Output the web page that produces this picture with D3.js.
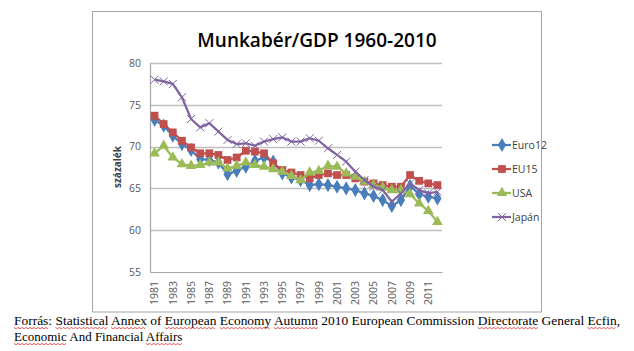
<!DOCTYPE html>
<html lang="hu">
<head>
<meta charset="utf-8">
<title>Munkabér/GDP 1960-2010</title>
<script src="https://cdn.jsdelivr.net/npm/d3@7"></script>
<style>
  body { margin: 0; background: #fff; }
  .axis text { font-family: "Open Sans", sans-serif; font-size: 10.5px; fill: #595959; }
  .legend text { font-family: "Open Sans", sans-serif; font-size: 10.5px; fill: #404040; }
  .footer { font-family: "Liberation Serif", "Times New Roman", serif; font-size: 13px; fill: #000; }
</style>
</head>
<body>
<script>
// data
var years = d3.range(1981, 2013);
var euro12 = [73.2, 72.5, 71.3, 70.3, 69.6, 68.5, 68.4, 68.1, 66.7, 67.1, 67.6, 68.3,
              68.7, 68.2, 66.8, 66.3, 66.0, 65.4, 65.5, 65.4, 65.2, 65.0, 64.8, 64.4,
              64.1, 63.6, 62.9, 63.6, 65.3, 64.3, 64.0, 63.8];
var eu15 = [73.7, 72.7, 71.7, 70.7, 69.9, 69.2, 69.2, 69.0, 68.4, 68.7, 69.5, 69.4,
            69.2, 68.0, 67.2, 66.9, 66.6, 66.2, 66.6, 66.8, 66.6, 66.6, 66.2, 65.8,
            65.6, 65.4, 65.2, 65.2, 66.6, 65.9, 65.6, 65.4];
var usa = [69.2, 70.1, 68.7, 67.9, 67.7, 67.8, 68.1, 68.1, 67.4, 67.7, 68.1, 67.8,
           67.6, 67.3, 67.0, 66.5, 66.0, 66.9, 67.1, 67.7, 67.6, 66.8, 66.4, 65.8,
           65.4, 65.1, 64.8, 64.8, 64.3, 63.2, 62.3, 61.0];
var japan = [78.0, 77.8, 77.5, 75.9, 73.3, 72.3, 72.8, 71.8, 70.8, 70.3, 70.4, 70.1,
             70.6, 70.9, 71.1, 70.6, 70.6, 71.0, 70.7, 69.8, 69.0, 68.2, 67.0, 66.0,
             65.2, 64.8, 63.4, 64.4, 65.6, 64.8, 64.4, 64.6];
var seriesNames = ["Euro12", "EU15", "USA", "Japán"];
var yTicks = [55, 60, 65, 70, 75, 80];
var titleText = "Munkabér/GDP 1960-2010";
var yTitle = "százalék";
var footerLines = [
  "Forrás: Statistical Annex of European Economy Autumn 2010 European Commission Directorate General Ecfin,",
  "Economic And Financial Affairs"
];
var misspelled = [
  ["Forrás", "Statistical", "Annex", "European", "Economy", "Autumn", "Directorate", "Ecfin"],
  ["Economic", "Affairs"]
];

var W = 634, H = 351;
var colors = ["#4A7EBB", "#C0504D", "#9BBB59", "#8064A2"];
var symbols = [d3.symbolDiamond, d3.symbolSquare, d3.symbolTriangle, d3.symbolCross];
var allSeries = [euro12, eu15, usa, japan];

var svg = d3.select("body").append("svg")
  .attr("width", W).attr("height", H);

// chart frame
svg.append("rect")
  .attr("x", 92.5).attr("y", 11.5).attr("width", 449).attr("height", 300.5)
  .attr("fill", "#fff").attr("stroke", "#a6a6a6");

svg.append("text")
  .attr("x", 317).attr("y", 47)
  .attr("text-anchor", "middle")
  .style("font-family", "'Open Sans', sans-serif")
  .style("font-size", "19px")
  .style("font-weight", 600)
  .text(titleText);

var x = d3.scaleBand().domain(years).range([150, 442]);
var y = d3.scaleLinear().domain([55, 80]).range([272, 63]);

// gridlines
svg.append("g").selectAll("line")
  .data(yTicks.slice(1))
  .enter().append("line")
  .attr("x1", 150).attr("x2", 442)
  .attr("y1", function(d) { return Math.round(y(d)) + 0.5; })
  .attr("y2", function(d) { return Math.round(y(d)) + 0.5; })
  .attr("stroke", "#bfbfbf").attr("stroke-width", 1.5);

// y axis
var yAxis = d3.axisLeft(y).tickValues(yTicks).tickSize(0).tickPadding(9);
svg.append("g").attr("class", "axis")
  .attr("transform", "translate(150,0)")
  .call(yAxis)
  .call(function(g) { g.select(".domain").attr("stroke", "#a6a6a6").attr("stroke-width", 1.2); });

// x axis
var xAxis = d3.axisBottom(x)
  .tickValues(years.filter(function(d, i) { return i % 2 === 0; }))
  .tickSize(0);
var gx = svg.append("g").attr("class", "axis")
  .attr("transform", "translate(0,272)")
  .call(xAxis);
gx.select(".domain").attr("stroke", "#a6a6a6").attr("stroke-width", 1.2);
gx.selectAll(".tick text")
  .attr("transform", "rotate(-90)")
  .attr("text-anchor", "end")
  .attr("x", -9).attr("y", 0).attr("dy", "0.35em");

svg.append("text")
  .attr("transform", "translate(121,167) rotate(-90)")
  .attr("text-anchor", "middle")
  .style("font-family", "'Open Sans', sans-serif")
  .style("font-size", "10px")
  .style("font-weight", "bold")
  .attr("fill", "#404040")
  .text(yTitle);

// lines and markers
var line = d3.line()
  .x(function(d, i) { return x(years[i]) + x.bandwidth() / 2; })
  .y(function(d) { return y(d); });

function marker(g, k) {
  if (k === 3) {
    g.append("path").attr("d", "M-4,-4L4,4M-4,4L4,-4")
      .attr("stroke", colors[k]).attr("stroke-width", 1).attr("fill", "none");
  } else {
    var size = [58, 60, 50][k];
    g.append("path").attr("d", d3.symbol().type(symbols[k]).size(size)())
      .attr("fill", colors[k]);
  }
}

allSeries.forEach(function(vals, k) {
  var g = svg.append("g");
  g.append("path").datum(vals)
    .attr("d", line)
    .attr("fill", "none")
    .attr("stroke", colors[k])
    .attr("stroke-width", 2.25)
    .attr("stroke-linejoin", "round");
  g.selectAll("g.pt").data(vals).enter().append("g")
    .attr("class", "pt")
    .attr("transform", function(d, i) {
      return "translate(" + (x(years[i]) + x.bandwidth() / 2) + "," + y(d) + ")";
    })
    .each(function() { marker(d3.select(this), k); });
});

// legend
var legend = svg.append("g").attr("class", "legend");
seriesNames.forEach(function(name, k) {
  var ly = 145 + k * 24;
  var lg = legend.append("g").attr("transform", "translate(502," + ly + ")");
  lg.append("line").attr("x1", -10).attr("x2", 9)
    .attr("stroke", colors[k]).attr("stroke-width", 2.25);
  marker(lg, k);
  lg.append("text").attr("x", 10).attr("dy", "0.35em").text(name);
});

// footer source note with spell-check squiggles
footerLines.forEach(function(txt, li) {
  var t = svg.append("text").attr("class", "footer")
    .attr("x", 14).attr("y", 325 + li * 16)
    .text(txt);
  if (li === 0) t.attr("textLength", 606).attr("lengthAdjust", "spacingAndGlyphs");
  var node = t.node();
  misspelled[li].forEach(function(w) {
    var idx = txt.indexOf(w);
    var x0 = node.getStartPositionOfChar(idx).x;
    var x1 = node.getEndPositionOfChar(idx + w.length - 1).x;
    var base = 325 + li * 16 + 2.5;
    var pts = [];
    for (var px = x0, j = 0; px <= x1; px += 2, j++) pts.push([px, base + (j % 2 ? 1.2 : 0)]);
    svg.append("path").attr("d", d3.line()(pts))
      .attr("fill", "none").attr("stroke", "#e03030").attr("stroke-width", 0.8);
  });
});
</script>
</body>
</html>
